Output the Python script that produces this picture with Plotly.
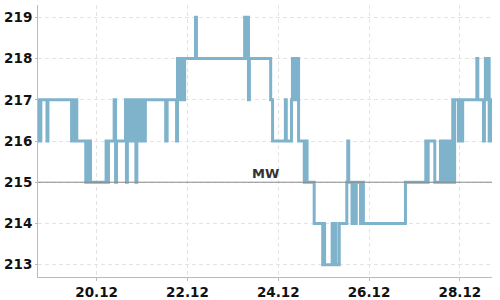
import plotly.graph_objects as go

YEAR = "2012"

times = [
    "12-18 17:00", "12-18 17:30", "12-18 18:00", "12-18 18:30", "12-18 21:45", "12-18 22:15",
    "12-19 10:45", "12-19 11:30", "12-19 12:15", "12-19 13:00", "12-19 13:30",
    "12-19 18:15", "12-19 19:00", "12-19 19:45", "12-19 20:15", "12-19 20:45",
    "12-20 05:00", "12-20 05:45", "12-20 06:15", "12-20 09:15", "12-20 10:00", "12-20 10:30",
    "12-20 15:15", "12-20 15:45", "12-20 16:15", "12-20 17:00", "12-20 17:45", "12-20 18:30",
    "12-20 19:15", "12-20 20:00", "12-20 20:45", "12-20 21:15", "12-20 21:45",
    "12-20 22:45", "12-20 23:30",
    "12-21 00:15", "12-21 01:00", "12-21 01:45", "12-21 12:30", "12-21 13:15",
    "12-21 18:15", "12-21 18:45", "12-21 19:15", "12-21 20:00", "12-21 20:45",
    "12-21 21:30", "12-21 22:00", "12-21 22:30",
    "12-22 04:15", "12-22 04:45",
    "12-23 06:15", "12-23 07:15", "12-23 07:45", "12-23 08:15", "12-23 08:45",
    "12-23 20:00", "12-23 21:00",
    "12-24 03:45", "12-24 04:15", "12-24 07:00", "12-24 07:30", "12-24 08:15", "12-24 09:00",
    "12-24 09:45", "12-24 10:15", "12-24 10:45", "12-24 13:45", "12-24 14:30", "12-24 15:15",
    "12-24 19:00", "12-24 23:30",
    "12-25 00:00", "12-25 00:30", "12-25 04:30", "12-25 05:15", "12-25 06:00", "12-25 06:30",
    "12-25 08:15", "12-25 12:15", "12-25 12:45", "12-25 13:15", "12-25 15:00", "12-25 15:45",
    "12-25 16:30", "12-25 17:15", "12-25 19:30", "12-25 20:15", "12-25 21:00",
    "12-26 19:15",
    "12-27 06:00", "12-27 06:45", "12-27 07:15", "12-27 10:45", "12-27 13:45", "12-27 14:30",
    "12-27 15:15", "12-27 16:00", "12-27 16:45", "12-27 17:30", "12-27 18:15", "12-27 18:45",
    "12-27 20:15", "12-27 20:45", "12-27 21:15", "12-27 23:15",
    "12-28 00:00", "12-28 00:45", "12-28 01:30", "12-28 09:00", "12-28 09:30", "12-28 12:30",
    "12-28 13:00", "12-28 13:30", "12-28 14:15", "12-28 14:45", "12-28 15:30", "12-28 16:15",
    "12-28 17:00",
]

values = [
    216, 217, 216, 217, 216, 217,
    216, 217, 216, 217, 216,
    215, 216, 215, 216, 215,
    216, 215, 216, 217, 215, 216,
    217, 215, 217, 216, 217, 216,
    217, 216, 215, 217, 216,
    217, 216,
    217, 216, 217, 216, 217,
    216, 218, 217, 218, 217,
    218, 217, 218,
    219, 218,
    219, 218, 219, 217, 218,
    217, 216,
    217, 216, 217, 218, 217, 218,
    217, 218, 216, 215, 216, 215,
    214, 213,
    214, 213, 214, 213, 214, 213,
    214, 215, 216, 215, 214, 215,
    214, 215, 214, 215, 214,
    215,
    216, 215, 216, 215, 216, 215,
    216, 215, 216, 215, 216, 215,
    217, 215, 217, 216,
    217, 216, 217, 218, 217, 216,
    217, 218, 217, 218, 216, 217,
    217,
]

mean_value = 215
mean_label = "MW"
mean_label_at = "12-23 17:00"
x_range = ["12-18 17:00", "12-28 17:00"]
tick_start = "12-20"


def full(t):
    return f"{YEAR}-{t[:5]} {t[6:]}"


x = [full(t) for t in times]

fig = go.Figure()
fig.add_trace(go.Scatter(
    x=x, y=values, mode="lines", line_shape="hv",
    line=dict(color="rgb(127,179,204)", width=3),
    hoverinfo="skip", showlegend=False,
))

fig.add_shape(type="line", xref="paper", yref="y", x0=0, x1=1,
              y0=mean_value, y1=mean_value,
              line=dict(color="#888888", width=1))
fig.add_annotation(x=full(mean_label_at), y=mean_value, xref="x", yref="y",
                   text=mean_label, showarrow=False, yanchor="bottom", yshift=-1,
                   font=dict(family="DejaVu Sans", size=13, color="#333333", weight="bold"))

axis_font = dict(family="DejaVu Sans", size=13.5, color="#111111", weight="bold")
grid = dict(showgrid=True, gridcolor="#e3e3e3", griddash="4px,3px", gridwidth=1)
fig.update_layout(
    width=500, height=300,
    margin=dict(l=38, r=8, t=5, b=23),
    paper_bgcolor="white", plot_bgcolor="white",
    xaxis=dict(
        type="date", automargin=False,
        range=[full(x_range[0]), full(x_range[1])],
        tick0=f"{YEAR}-{tick_start}", dtick=2 * 86400000, tickformat="%d.%m",
        showline=True, linecolor="#bbbbbb", linewidth=1,
        ticks="outside", ticklen=3, tickcolor="#bbbbbb",
        tickfont=axis_font, zeroline=False, **grid,
    ),
    yaxis=dict(
        automargin=False,
        range=[212.7, 219.3], dtick=1,
        showline=True, linecolor="#bbbbbb", linewidth=1,
        ticks="outside", ticklen=2, tickcolor="#bbbbbb",
        tickfont=axis_font, zeroline=False, **grid,
    ),
)

fig.write_html("out.html")
